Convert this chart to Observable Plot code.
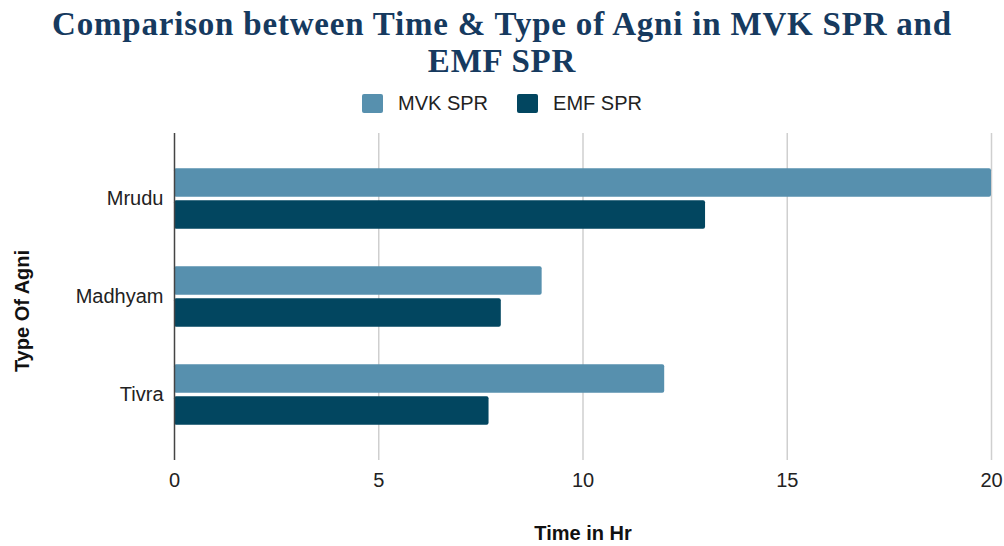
<!DOCTYPE html>
<html>
<head>
<meta charset="utf-8">
<script src="https://cdn.jsdelivr.net/npm/d3@7"></script>
<script src="https://cdn.jsdelivr.net/npm/@observablehq/plot@0.6"></script>
<style>
  html, body { margin: 0; padding: 0; background: #fff; }
  body { width: 1004px; height: 546px; overflow: hidden; font-family: "Liberation Sans", Arial, sans-serif; }
  #title { padding-top: 6px; height: 74px; box-sizing: content-box; }
  .tline { font-family: "Liberation Serif", "Times New Roman", serif; font-weight: bold; font-size: 33px; letter-spacing: 0.8px; line-height: 37px; height: 37px; color: #163a5f; text-align: center; white-space: nowrap; }
  #legend { display: flex; justify-content: center; align-items: center; padding-top: 7px; height: 33px; font-size: 20px; color: #222; }
  .item { display: flex; align-items: center; margin: 0 14.5px; }
  .swatch { width: 21px; height: 19px; border-radius: 2px; margin-right: 15px; }
  #chart svg { display: block; }
</style>
</head>
<body>
<div id="title"></div>
<div id="legend"></div>
<div id="chart"></div>
<script>
const titleLines = ["Comparison between Time & Type of Agni in MVK SPR and", "EMF SPR"];
const categories = ["Mrudu", "Madhyam", "Tivra"];
const mvkSpr = [20, 9, 12];
const emfSpr = [13, 8, 7.7];
const seriesNames = ["MVK SPR", "EMF SPR"];
const seriesColors = ["#5790ae", "#024660"];
const xTicks = [0, 5, 10, 15, 20];
const xLabel = "Time in Hr";
const yLabel = "Type Of Agni";

// title
const titleEl = document.getElementById("title");
titleLines.forEach((t) => {
  const d = document.createElement("div");
  d.className = "tline";
  d.textContent = t;
  titleEl.appendChild(d);
});

// legend
const legendEl = document.getElementById("legend");
seriesNames.forEach((name, i) => {
  const item = document.createElement("div");
  item.className = "item";
  const sw = document.createElement("div");
  sw.className = "swatch";
  sw.style.background = seriesColors[i];
  const lab = document.createElement("span");
  lab.textContent = name;
  item.appendChild(sw);
  item.appendChild(lab);
  legendEl.appendChild(item);
});

const mvkData = categories.map((c, i) => ({category: c, value: mvkSpr[i]}));
const emfData = categories.map((c, i) => ({category: c, value: emfSpr[i]}));
const gridTicks = xTicks.filter(t => t !== 0);

const chart = Plot.plot({
  width: 1004,
  height: 426,
  marginTop: 13,
  marginBottom: 86,
  marginLeft: 174,
  marginRight: 13,
  style: {fontFamily: '"Liberation Sans", Arial, sans-serif', fontSize: "20px", color: "#222", background: "#fff", overflow: "visible"},
  x: {domain: [0, 20], ticks: xTicks, tickSize: 0, tickPadding: 12, label: null},
  y: {domain: categories, paddingInner: 0.3816, paddingOuter: 0.359, round: false, tickSize: 0, tickPadding: 11, label: null},
  marks: [
    Plot.ruleX(gridTicks, {stroke: "#cfcfcf", strokeWidth: 1.5}),
    Plot.barX(mvkData, {y: "category", x: "value", fill: seriesColors[0], insetBottom: 32, rx: 2}),
    Plot.barX(emfData, {y: "category", x: "value", fill: seriesColors[1], insetTop: 32, rx: 2}),
    Plot.ruleX([0], {stroke: "#444", strokeWidth: 1.5}),
    Plot.text([xLabel], {frameAnchor: "bottom", lineAnchor: "middle", textAnchor: "middle", dy: 73, fontWeight: "bold", fontSize: 20, fill: "#111"}),
    Plot.text([yLabel], {frameAnchor: "left", lineAnchor: "middle", textAnchor: "middle", rotate: -90, dx: -152, dy: 14, fontWeight: "bold", fontSize: 20, fill: "#111"})
  ]
});
document.getElementById("chart").appendChild(chart);
</script>
</body>
</html>
